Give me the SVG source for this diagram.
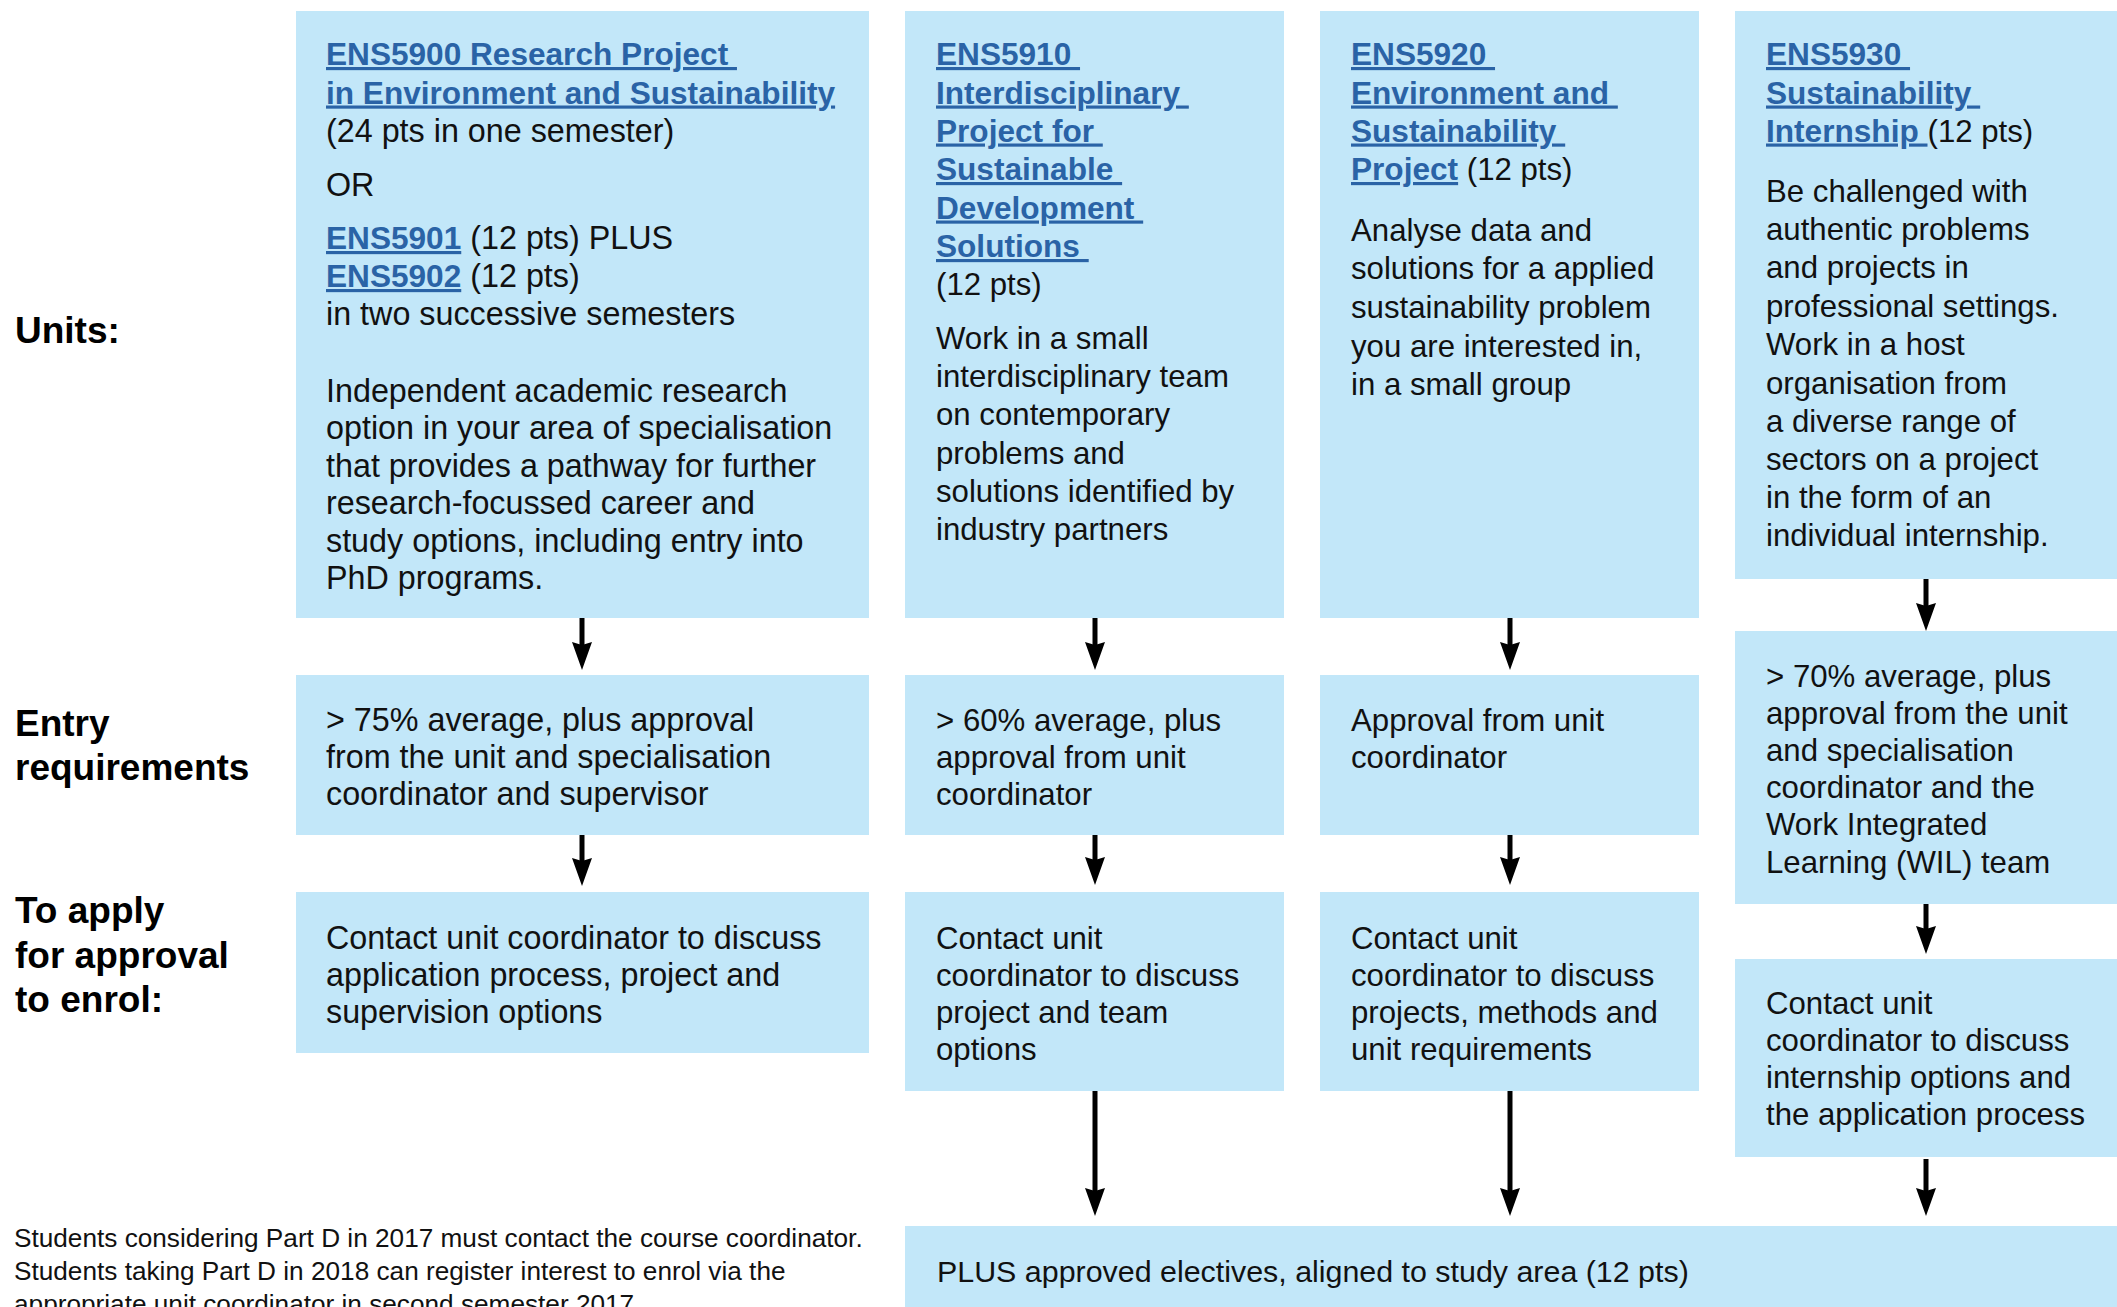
<svg xmlns="http://www.w3.org/2000/svg" width="2117" height="1307" viewBox="0 0 2117 1307">
<style>
.box{fill:#c2e7f9}
.t{font-family:"Liberation Sans",Arial,Helvetica,sans-serif;font-size:32.3px;fill:#111}
.t2{font-family:"Liberation Sans",Arial,Helvetica,sans-serif;font-size:31.2px;fill:#111}
.lk{font-weight:bold;font-size:31.6px;fill:#2a63a6;text-decoration:underline}
.lbl{font-family:"Liberation Sans",Arial,Helvetica,sans-serif;font-size:37px;font-weight:bold;fill:#000}
.foot{font-family:"Liberation Sans",Arial,Helvetica,sans-serif;font-size:26.2px;fill:#111}
.plus{font-family:"Liberation Sans",Arial,Helvetica,sans-serif;font-size:30.4px;fill:#111}
.arr{stroke:#000;stroke-width:5;fill:none}
</style>
<defs>
<marker id="ah" markerUnits="userSpaceOnUse" markerWidth="32" markerHeight="24" viewBox="0 -12 32 24" refX="8" refY="0" orient="auto">
<path d="M28,0 L0,-10 L3,0 L0,10 Z" fill="#000"/>
</marker>
</defs>
<rect width="2117" height="1307" fill="#fff"/>

<g id="labels">
<text class="lbl" x="15" y="343">Units:</text>
<text class="lbl" x="15" y="736">Entry</text>
<text class="lbl" x="15" y="780">requirements</text>
<text class="lbl" x="15" y="923">To apply</text>
<text class="lbl" x="15" y="967.5">for approval</text>
<text class="lbl" x="15" y="1012">to enrol:</text>
</g>

<g id="unit-ens5900">
<rect class="box" x="296" y="11" width="573" height="607"/>
<text class="t">
<tspan x="326" y="65" class="lk">ENS5900 Research Project&#160;</tspan>
<tspan x="326" y="103.5" class="lk">in Environment and Sustainability</tspan>
<tspan x="326" y="141.5">(24 pts in one semester)</tspan>
<tspan x="326" y="196">OR</tspan>
<tspan x="326" y="249"><tspan class="lk">ENS5901</tspan> (12 pts) PLUS</tspan>
<tspan x="326" y="287"><tspan class="lk">ENS5902</tspan> (12 pts)</tspan>
<tspan x="326" y="324.5">in two successive semesters</tspan>
<tspan x="326" y="401.5">Independent academic research</tspan>
<tspan x="326" y="439">option in your area of specialisation</tspan>
<tspan x="326" y="476.5">that provides a pathway for further</tspan>
<tspan x="326" y="514">research-focussed career and</tspan>
<tspan x="326" y="551.5">study options, including entry into</tspan>
<tspan x="326" y="589">PhD programs.</tspan>
</text>
</g>

<g id="unit-ens5910">
<rect class="box" x="905" y="11" width="379" height="607"/>
<text class="t2">
<tspan x="936" y="65" class="lk">ENS5910&#160;</tspan>
<tspan x="936" y="103.5" class="lk">Interdisciplinary&#160;</tspan>
<tspan x="936" y="141.5" class="lk">Project for&#160;</tspan>
<tspan x="936" y="180" class="lk">Sustainable&#160;</tspan>
<tspan x="936" y="218.5" class="lk">Development&#160;</tspan>
<tspan x="936" y="257" class="lk">Solutions&#160;</tspan>
<tspan x="936" y="295">(12 pts)</tspan>
<tspan x="936" y="348.5">Work in a small</tspan>
<tspan x="936" y="386.5">interdisciplinary team</tspan>
<tspan x="936" y="425">on contemporary</tspan>
<tspan x="936" y="463.5">problems and</tspan>
<tspan x="936" y="502">solutions identified by</tspan>
<tspan x="936" y="540">industry partners</tspan>
</text>
</g>

<g id="unit-ens5920">
<rect class="box" x="1320" y="11" width="379" height="607"/>
<text class="t2">
<tspan x="1351" y="65" class="lk">ENS5920&#160;</tspan>
<tspan x="1351" y="103.5" class="lk">Environment and&#160;</tspan>
<tspan x="1351" y="141.5" class="lk">Sustainability&#160;</tspan>
<tspan x="1351" y="180"><tspan class="lk">Project</tspan> (12 pts)</tspan>
<tspan x="1351" y="241">Analyse data and</tspan>
<tspan x="1351" y="279">solutions for a applied</tspan>
<tspan x="1351" y="318">sustainability problem</tspan>
<tspan x="1351" y="356.5">you are interested in,</tspan>
<tspan x="1351" y="395">in a small group</tspan>
</text>
</g>

<g id="unit-ens5930">
<rect class="box" x="1735" y="11" width="382" height="568"/>
<text class="t2">
<tspan x="1766" y="65" class="lk">ENS5930&#160;</tspan>
<tspan x="1766" y="103.5" class="lk">Sustainability&#160;</tspan>
<tspan x="1766" y="141.5"><tspan class="lk">Internship&#160;</tspan>(12 pts)</tspan>
<tspan x="1766" y="201.5">Be challenged with</tspan>
<tspan x="1766" y="240">authentic problems</tspan>
<tspan x="1766" y="278">and projects in</tspan>
<tspan x="1766" y="316.5">professional settings.</tspan>
<tspan x="1766" y="355">Work in a host</tspan>
<tspan x="1766" y="393.5">organisation from</tspan>
<tspan x="1766" y="431.5">a diverse range of</tspan>
<tspan x="1766" y="470">sectors on a project</tspan>
<tspan x="1766" y="508">in the form of an</tspan>
<tspan x="1766" y="546">individual internship.</tspan>
</text>
</g>

<g id="entry-ens5900">
<rect class="box" x="296" y="675" width="573" height="160"/>
<text class="t">
<tspan x="326" y="731">&gt; 75% average, plus approval</tspan>
<tspan x="326" y="768">from the unit and specialisation</tspan>
<tspan x="326" y="805">coordinator and supervisor</tspan>
</text>
</g>

<g id="entry-ens5910">
<rect class="box" x="905" y="675" width="379" height="160"/>
<text class="t2">
<tspan x="936" y="731">&gt; 60% average, plus</tspan>
<tspan x="936" y="768">approval from unit</tspan>
<tspan x="936" y="805">coordinator</tspan>
</text>
</g>

<g id="entry-ens5920">
<rect class="box" x="1320" y="675" width="379" height="160"/>
<text class="t2">
<tspan x="1351" y="731">Approval from unit</tspan>
<tspan x="1351" y="768">coordinator</tspan>
</text>
</g>

<g id="entry-ens5930">
<rect class="box" x="1735" y="631" width="382" height="273"/>
<text class="t2">
<tspan x="1766" y="687">&gt; 70% average, plus</tspan>
<tspan x="1766" y="724">approval from the unit</tspan>
<tspan x="1766" y="761">and specialisation</tspan>
<tspan x="1766" y="798">coordinator and the</tspan>
<tspan x="1766" y="835">Work Integrated</tspan>
<tspan x="1766" y="872.5">Learning (WIL) team</tspan>
</text>
</g>

<g id="apply-ens5900">
<rect class="box" x="296" y="892" width="573" height="161"/>
<text class="t">
<tspan x="326" y="949">Contact unit coordinator to discuss</tspan>
<tspan x="326" y="986">application process, project and</tspan>
<tspan x="326" y="1023">supervision options</tspan>
</text>
</g>

<g id="apply-ens5910">
<rect class="box" x="905" y="892" width="379" height="199"/>
<text class="t2">
<tspan x="936" y="949">Contact unit</tspan>
<tspan x="936" y="986">coordinator to discuss</tspan>
<tspan x="936" y="1023">project and team</tspan>
<tspan x="936" y="1060">options</tspan>
</text>
</g>

<g id="apply-ens5920">
<rect class="box" x="1320" y="892" width="379" height="199"/>
<text class="t2">
<tspan x="1351" y="949">Contact unit</tspan>
<tspan x="1351" y="986">coordinator to discuss</tspan>
<tspan x="1351" y="1023">projects, methods and</tspan>
<tspan x="1351" y="1060">unit requirements</tspan>
</text>
</g>

<g id="apply-ens5930">
<rect class="box" x="1735" y="959" width="382" height="198"/>
<text class="t2">
<tspan x="1766" y="1014">Contact unit</tspan>
<tspan x="1766" y="1051">coordinator to discuss</tspan>
<tspan x="1766" y="1088">internship options and</tspan>
<tspan x="1766" y="1125">the application process</tspan>
</text>
</g>

<g id="electives">
<rect class="box" x="905" y="1226" width="1212" height="81"/>
<text class="plus" x="937" y="1282">PLUS approved electives, aligned to study area (12 pts)</text>
</g>

<g id="footnote">
<text class="foot">
<tspan x="14" y="1247">Students considering Part D in 2017 must contact the course coordinator.</tspan>
<tspan x="14" y="1280">Students taking Part D in 2018 can register interest to enrol via the</tspan>
<tspan x="14" y="1313">appropriate unit coordinator in second semester 2017</tspan>
</text>
</g>

<g id="connectors">
<line class="arr" x1="582" y1="618" x2="582" y2="650" marker-end="url(#ah)"/>
<line class="arr" x1="582" y1="835" x2="582" y2="866" marker-end="url(#ah)"/>
<line class="arr" x1="1095" y1="618" x2="1095" y2="650" marker-end="url(#ah)"/>
<line class="arr" x1="1095" y1="835" x2="1095" y2="865" marker-end="url(#ah)"/>
<line class="arr" x1="1095" y1="1091" x2="1095" y2="1196" marker-end="url(#ah)"/>
<line class="arr" x1="1510" y1="618" x2="1510" y2="650" marker-end="url(#ah)"/>
<line class="arr" x1="1510" y1="835" x2="1510" y2="865" marker-end="url(#ah)"/>
<line class="arr" x1="1510" y1="1091" x2="1510" y2="1196" marker-end="url(#ah)"/>
<line class="arr" x1="1926" y1="579" x2="1926" y2="611" marker-end="url(#ah)"/>
<line class="arr" x1="1926" y1="904" x2="1926" y2="934" marker-end="url(#ah)"/>
<line class="arr" x1="1926" y1="1159" x2="1926" y2="1196" marker-end="url(#ah)"/>
</g>
</svg>
